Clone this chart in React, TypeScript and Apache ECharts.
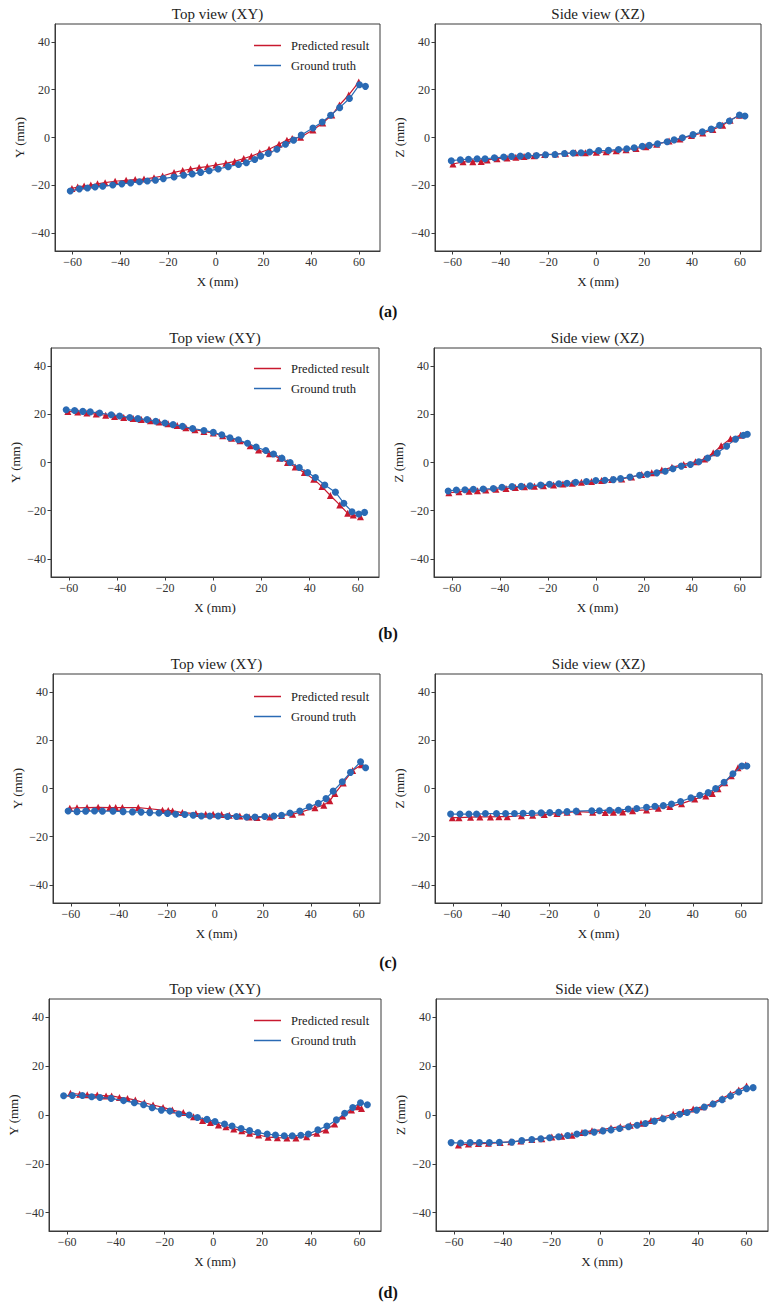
import React, { useEffect, useRef } from "react";
import * as echarts from "echarts";

// ---------- data ----------
const xTicks = [-60, -40, -20, 0, 20, 40, 60];
const yTicks = [-40, -20, 0, 20, 40];
const seriesNames = ["Predicted result", "Ground truth"];
const panelLabels = ["(a)", "(b)", "(c)", "(d)"];
const titles = ["Top view (XY)", "Side view (XZ)"];
const yNames = ["Y (mm)", "Z (mm)"];

// (a) top view XY
const aXYPred = [[-60.3,-21.3],[-57.9,-20.7],[-55.2,-20.3],[-52.4,-19.9],[-49.6,-19.4],[-46.4,-18.9],[-42.2,-18.3],[-37.6,-17.9],[-33.8,-17.6],[-30.1,-17.4],[-25.9,-16.8],[-22.3,-16.1],[-17.5,-14.6],[-13.9,-13.8],[-10.6,-13.2],[-7.0,-12.6],[-3.6,-12.2],[0,-11.5],[4.2,-10.8],[7.9,-10.0],[11.7,-8.8],[14.9,-7.8],[18.4,-6.4],[22.3,-4.9],[26.5,-2.8],[29.8,-1.1],[32.0,-0.4],[35.5,0.1],[40.7,3.1],[44.8,6.1],[48.6,9.4],[51.8,13.6],[55.7,17.8],[59.9,23.2]];
const aXYTrue = [[-61.0,-22.4],[-57.2,-21.5],[-53.8,-21.1],[-50.6,-20.7],[-47.4,-20.4],[-43.2,-19.9],[-39.4,-19.4],[-35.7,-19.0],[-32.0,-18.5],[-28.7,-18.2],[-25.3,-17.9],[-22.0,-17.2],[-17.5,-16.5],[-13.5,-15.8],[-9.9,-15.3],[-6.4,-14.6],[-2.8,-13.9],[1.0,-13.2],[5.2,-12.2],[9.5,-11.3],[12.8,-10.6],[16.3,-9.2],[18.8,-7.8],[22.0,-6.7],[25.6,-4.9],[29.2,-2.8],[32.6,-1.1],[35.8,1.0],[40.7,4.0],[44.6,6.5],[48.1,9.3],[51.9,12.5],[56.0,16.3],[60.2,22.1],[62.7,21.4]];
// (a) side view XZ
const aXZPred = [[-59.9,-11.1],[-55.7,-10.2],[-51.6,-10.1],[-48.1,-10.0],[-45.6,-9.4],[-41.5,-8.9],[-37.3,-8.6],[-33.6,-8.3],[-30.2,-8.0],[-26.0,-7.6],[-21.6,-7.1],[-17.0,-6.9],[-12.9,-6.6],[-8.7,-6.4],[-4.6,-6.4],[0,-6.2],[4.1,-6.0],[8.3,-5.5],[12.4,-5.1],[16.6,-4.6],[20.7,-3.9],[25.2,-2.8],[30.4,-1.5],[34.9,-0.6],[39.7,0.8],[44.5,1.9],[48.7,3.3],[52.8,5.1],[55.9,7.2],[59.8,9.3]];
const aXZTrue = [[-60.6,-9.7],[-56.8,-9.3],[-53.4,-9.1],[-49.8,-8.9],[-46.5,-8.9],[-42.6,-8.5],[-38.7,-8.2],[-35.4,-7.9],[-31.8,-7.8],[-28.5,-7.6],[-25.0,-7.5],[-21.2,-7.2],[-17.3,-7.1],[-13.3,-6.7],[-9.7,-6.5],[-6.4,-6.4],[-2.8,-6.1],[1.0,-5.5],[5.1,-5.4],[9.3,-5.0],[12.7,-4.7],[15.8,-4.3],[19.2,-3.7],[22.1,-3.3],[25.6,-2.6],[29.6,-1.8],[32.5,-1.0],[36.0,-0.1],[40.4,1.2],[44.3,2.4],[48.0,3.5],[51.5,5.1],[55.6,6.9],[59.8,9.4],[62.1,9.0]];

// (b) top view XY
const bXYPred = [[-60.4,21.2],[-56.3,20.9],[-52.5,20.5],[-48.6,20.1],[-44.7,19.6],[-41.0,19.1],[-37.2,18.7],[-33.3,18.3],[-29.9,17.8],[-26.1,17.3],[-22.5,16.8],[-18.8,16.1],[-15.0,15.3],[-11.4,14.4],[-7.6,13.6],[-3.9,12.9],[0,12.2],[3.9,11.1],[7.6,10.1],[11.1,9.0],[15.3,6.9],[18.8,5.2],[23.3,3.6],[27.5,1.8],[30.8,0],[34.0,-1.9],[37.8,-4.2],[41.7,-6.9],[45.1,-10.0],[48.6,-13.7],[52.5,-17.6],[55.8,-21.1],[58.1,-21.8],[61.1,-22.5]];
const bXYTrue = [[-61.1,21.9],[-57.6,21.6],[-54.2,21.2],[-51.1,21.0],[-47.2,20.5],[-42.4,19.8],[-38.9,19.3],[-34.7,18.7],[-31.3,18.2],[-27.5,17.8],[-23.9,17.1],[-20.1,16.4],[-16.7,15.7],[-12.8,15.0],[-8.6,14.1],[-3.9,13.3],[0,12.5],[3.5,11.5],[6.9,10.3],[10.4,9.4],[14.2,8.0],[17.8,6.4],[21.8,5.0],[25.0,3.5],[28.5,1.8],[31.9,0],[35.7,-2.1],[39.2,-4.2],[42.4,-6.2],[46.3,-9.3],[50.7,-12.3],[54.2,-16.9],[57.6,-20.4],[60.4,-21.4],[62.8,-20.7]];
// (b) side view XZ
const bXZPred = [[-61.2,-12.6],[-57.0,-12.1],[-52.8,-11.9],[-49.3,-11.7],[-45.8,-11.4],[-41.6,-11.1],[-37.4,-10.8],[-33.5,-10.4],[-29.7,-10.1],[-25.6,-9.9],[-21.8,-9.6],[-17.6,-9.3],[-13.7,-8.9],[-9.8,-8.6],[-6.0,-8.2],[-1.8,-7.9],[2.4,-7.5],[6.6,-7.1],[10.8,-6.8],[14.9,-6.0],[19.1,-5.0],[23.3,-4.3],[27.5,-3.1],[31.7,-2.0],[36.6,-0.8],[41.5,0.3],[45.3,1.5],[48.9,4.0],[52.2,6.9],[56.1,9.9],[60.3,11.3]];
const bXZTrue = [[-61.5,-11.8],[-58.1,-11.4],[-54.5,-11.3],[-51.0,-11.1],[-46.9,-11.0],[-42.7,-10.8],[-39.1,-10.3],[-34.9,-10.0],[-31.1,-9.9],[-27.4,-9.7],[-23.0,-9.3],[-19.3,-9.0],[-15.4,-8.8],[-12.0,-8.6],[-8.4,-8.2],[-3.9,-7.9],[0,-7.5],[3.8,-7.4],[7.3,-7.1],[10.3,-6.7],[14.2,-6.0],[18.2,-5.3],[21.5,-4.9],[25.4,-4.3],[28.9,-3.6],[32.1,-2.6],[35.6,-1.5],[39.4,-0.8],[42.9,0.3],[46.6,1.9],[50.6,3.9],[54.5,6.8],[58.2,9.7],[61.5,11.3],[63.1,11.7]];

// (c) top view XY
const cXYPred = [[-60.4,-8.2],[-57.4,-8.0],[-53.2,-7.9],[-48.6,-7.8],[-43.8,-7.9],[-41.3,-7.9],[-38.5,-7.9],[-31.9,-7.9],[-27.1,-8.4],[-21.8,-9.0],[-19.4,-9.1],[-17.6,-9.3],[-13.5,-10.0],[-7.9,-10.4],[-3.8,-10.7],[-0.7,-10.7],[2.8,-10.8],[6.0,-11.1],[10.4,-11.4],[14.3,-11.8],[17.6,-12.0],[22.9,-11.8],[27.8,-11.2],[32.4,-10.7],[36.1,-9.7],[41.7,-8.0],[45.4,-6.9],[47.9,-5.1],[50.0,-2.1],[53.5,2.3],[57.4,7.5],[61.1,9.9]];
const cXYTrue = [[-61.1,-9.3],[-57.4,-9.6],[-53.8,-9.4],[-50.1,-9.3],[-46.8,-9.4],[-42.4,-9.4],[-38.2,-9.6],[-34.3,-9.7],[-30.7,-9.8],[-27.1,-10.0],[-23.3,-10.2],[-19.7,-10.4],[-16.3,-10.7],[-12.5,-10.8],[-9.0,-11.1],[-5.6,-11.4],[-2.1,-11.4],[1.4,-11.4],[5.3,-11.6],[9.0,-11.6],[13.2,-11.8],[16.7,-11.8],[20.8,-11.6],[24.6,-11.4],[27.8,-11.1],[31.3,-10.2],[35.4,-9.3],[39.3,-7.6],[43.1,-6.1],[46.3,-4.2],[49.3,-1.1],[53.1,2.8],[56.5,6.7],[60.7,11.1],[62.8,8.6]];
// (c) side view XZ
const cXZPred = [[-60.2,-12.1],[-57.4,-12.1],[-52.6,-11.9],[-48.7,-11.8],[-44.3,-11.8],[-40.8,-11.7],[-37.3,-11.7],[-31.4,-11.3],[-26.7,-11.1],[-21.9,-10.8],[-16.6,-10.4],[-12.4,-9.9],[-7.6,-9.6],[-1.7,-9.9],[3.5,-10.0],[6.9,-9.9],[10.8,-9.7],[14.9,-9.2],[20.7,-8.9],[25.6,-8.2],[30.4,-7.5],[35.3,-6.3],[40.8,-4.4],[45.4,-3.1],[48.1,-2.1],[50.5,-0.1],[53.3,2.4],[56.0,5.3],[58.8,8.6],[62.0,9.7]];
const cXZTrue = [[-60.9,-10.6],[-57.0,-10.6],[-53.3,-10.6],[-50.1,-10.6],[-46.4,-10.4],[-41.8,-10.4],[-38.0,-10.4],[-34.3,-10.4],[-30.7,-10.3],[-27.0,-10.3],[-23.2,-10.1],[-19.6,-10.0],[-15.9,-9.9],[-12.4,-9.6],[-8.6,-9.4],[-2.1,-9.2],[1.1,-9.2],[5.3,-9.0],[9.0,-9.0],[13.1,-8.5],[16.6,-8.3],[20.7,-7.8],[24.2,-7.4],[27.7,-7.1],[31.1,-6.4],[34.9,-5.4],[39.2,-3.9],[42.9,-2.8],[46.4,-1.7],[49.5,0],[53.0,2.6],[56.7,6.1],[60.4,9.3],[62.5,9.3]];

// (d) top view XY
const dXYPred = [[-58.6,8.9],[-54.8,8.5],[-51.7,8.3],[-47.6,8.2],[-44.0,7.8],[-41.7,7.8],[-38.5,7.2],[-35.2,6.8],[-32.0,6.1],[-28.3,5.0],[-24.7,4.1],[-20.6,3.1],[-16.8,2.0],[-12.3,1.0],[-8.1,-0.7],[-4.4,-2.3],[-1.2,-3.1],[2.1,-4.1],[5.2,-4.8],[8.4,-5.7],[11.7,-6.4],[14.9,-7.5],[18.6,-8.2],[22.5,-9.1],[26.3,-9.3],[30.2,-9.4],[33.9,-9.4],[38.3,-8.9],[42.5,-7.5],[46.2,-6.1],[49.8,-3.7],[53.1,-0.4],[56.7,2.0],[59.4,3.4],[60.8,2.7]];
const dXYTrue = [[-61.4,7.9],[-57.8,8.0],[-53.7,8.0],[-49.9,7.5],[-46.5,7.2],[-41.9,6.8],[-36.8,5.9],[-32.4,5.0],[-28.6,4.2],[-25.1,3.0],[-21.3,2.0],[-17.8,1.6],[-14.1,0.4],[-9.9,0],[-6.5,-1.0],[-2.6,-1.8],[0.7,-2.7],[4.6,-3.7],[7.7,-4.5],[11.4,-5.5],[14.9,-6.4],[18.3,-7.2],[22.1,-7.8],[25.5,-8.2],[29.1,-8.5],[32.4,-8.5],[35.9,-8.3],[39.0,-7.8],[42.9,-6.1],[46.6,-4.5],[50.5,-2.0],[53.9,0.7],[57.2,3.1],[60.4,5.0],[63.2,4.2]];
// (d) side view XZ
const dXZPred = [[-58.2,-12.3],[-54.1,-11.9],[-50.0,-11.7],[-45.9,-11.6],[-41.1,-11.3],[-36.7,-11.0],[-32.6,-10.6],[-28.1,-10.0],[-24.0,-9.7],[-19.9,-9.0],[-15.8,-8.7],[-11.6,-8.3],[-7.5,-7.2],[-3.4,-6.4],[0.7,-6.1],[4.4,-5.3],[8.2,-4.8],[12.3,-4.2],[16.7,-3.4],[20.8,-2.3],[25.3,-1.0],[29.9,0.3],[34.0,1.4],[38.1,2.5],[42.2,3.4],[45.9,4.8],[50.0,6.8],[53.4,8.6],[56.8,10.2],[60.0,11.9]];
const dXZTrue = [[-61.2,-11.3],[-57.3,-11.5],[-53.4,-11.3],[-49.6,-11.3],[-45.5,-11.3],[-41.4,-11.2],[-36.3,-11.1],[-32.2,-10.5],[-28.1,-10.0],[-24.4,-9.7],[-20.8,-9.3],[-17.1,-8.9],[-13.4,-8.4],[-9.6,-7.8],[-6.2,-7.3],[-2.5,-7.0],[1.1,-6.5],[4.4,-6.1],[7.9,-5.5],[11.6,-4.8],[15.1,-4.2],[18.5,-3.5],[22.2,-2.5],[25.8,-1.5],[29.5,-0.7],[32.6,0.3],[35.6,1.0],[39.5,2.0],[42.7,3.3],[46.3,4.5],[50.0,6.3],[53.4,7.8],[56.8,9.4],[60.0,10.8],[62.7,11.2]];

const panelData = [
  [aXYPred, aXYTrue, aXZPred, aXZTrue],
  [bXYPred, bXYTrue, bXZPred, bXZTrue],
  [cXYPred, cXYTrue, cXZPred, cXZTrue],
  [dXYPred, dXYTrue, dXZPred, dXZTrue],
];

// ---------- layout ----------
const rows = [
  { top: 24, h: 227, lL: 55, wL: 325, lR: 435, wR: 326, lab: 311, legTop: 34 },
  { top: 348, h: 229, lL: 51, wL: 328, lR: 434, wR: 327, lab: 633, legTop: 357 },
  { top: 674, h: 229, lL: 53, wL: 327, lR: 435, wR: 327, lab: 962, legTop: 685 },
  { top: 999, h: 232, lL: 49, wL: 332, lR: 436, wR: 332, lab: 1292, legTop: 1009 },
];

const RED = "#c8192f";
const BLUE = "#2a6ab4";
const FONT = "'Liberation Serif', 'Times New Roman', serif";
const TXT = "#222";
const XMIN = -67.4;
const XMAX = 68.8;
const YMIN = -47.5;
const YMAX = 47.5;

const fmt = (v: number) => (v < 0 ? "\u2212" + Math.abs(v) : String(v));

export default function App() {
  const ref = useRef<HTMLDivElement>(null);
  useEffect(() => {
    if (!ref.current) return;
    const chart = echarts.init(ref.current, null, { renderer: "svg" });
    const grids: any[] = [];
    const xAxes: any[] = [];
    const yAxes: any[] = [];
    const series: any[] = [];
    const legends: any[] = [];
    const graphics: any[] = [];

    rows.forEach((r, ri) => {
      [0, 1].forEach((side) => {
        const gi = ri * 2 + side;
        const left = side === 0 ? r.lL : r.lR;
        const width = side === 0 ? r.wL : r.wR;
        grids.push({
          left, top: r.top, width, height: r.h,
          show: true, borderColor: "#3a3a3a", borderWidth: 1,
          backgroundColor: "transparent", containLabel: false,
        });
        xAxes.push({
          type: "value", gridIndex: gi, min: XMIN, max: XMAX,
          name: "X (mm)", nameLocation: "middle", nameGap: 24,
          nameTextStyle: { fontFamily: FONT, fontSize: 13, color: TXT },
          axisLine: { show: true, onZero: false, lineStyle: { color: "#3a3a3a", width: 1 } },
          axisTick: { show: true, inside: false, length: 3.5, customValues: xTicks, lineStyle: { color: "#3a3a3a" } },
          axisLabel: { customValues: xTicks, formatter: fmt, fontFamily: FONT, fontSize: 12, color: "#333", margin: 5 },
          splitLine: { show: false },
        });
        yAxes.push({
          type: "value", gridIndex: gi, min: YMIN, max: YMAX,
          name: yNames[side], nameLocation: "middle", nameGap: 29,
          nameTextStyle: { fontFamily: FONT, fontSize: 13, color: TXT },
          axisLine: { show: true, onZero: false, lineStyle: { color: "#3a3a3a", width: 1 } },
          axisTick: { show: true, inside: false, length: 3.5, customValues: yTicks, lineStyle: { color: "#3a3a3a" } },
          axisLabel: { customValues: yTicks, formatter: fmt, fontFamily: FONT, fontSize: 12, color: "#333", margin: 5 },
          splitLine: { show: false },
        });
        const pred = panelData[ri][side * 2];
        const truth = panelData[ri][side * 2 + 1];
        series.push({
          name: seriesNames[0], type: "line", xAxisIndex: gi, yAxisIndex: gi,
          data: pred, symbol: "triangle", symbolSize: 7, showSymbol: true,
          lineStyle: { color: RED, width: 1.2 }, itemStyle: { color: RED },
          z: 2,
        });
        series.push({
          name: seriesNames[1], type: "line", xAxisIndex: gi, yAxisIndex: gi,
          data: truth, symbol: "circle", symbolSize: 7, showSymbol: true,
          lineStyle: { color: BLUE, width: 1.2 }, itemStyle: { color: BLUE },
          z: 3,
        });
        graphics.push({
          type: "text", x: left + width / 2, y: r.top - 10,
          style: { text: titles[side], align: "center", verticalAlign: "middle", font: `15px ${FONT}`, fill: TXT },
        });
      });
      legends.push({
        data: seriesNames, orient: "vertical", left: 249, top: r.legTop,
        itemWidth: 27, itemHeight: 1.5, itemGap: 7, icon: "rect",
        selectedMode: false,
        textStyle: { fontFamily: FONT, fontSize: 12.5, color: TXT, padding: [0, 0, 0, 5] },
      });
      graphics.push({
        type: "text", x: 388, y: r.lab,
        style: { text: panelLabels[ri], align: "center", verticalAlign: "middle", font: `bold 16px ${FONT}`, fill: "#111" },
      });
    });

    chart.setOption({
      animation: false,
      backgroundColor: "#ffffff",
      grid: grids,
      xAxis: xAxes,
      yAxis: yAxes,
      series,
      legend: legends,
      graphic: graphics,
    });
    return () => chart.dispose();
  }, []);
  return (
    <div
      ref={ref}
      style={{ position: "absolute", left: 0, top: 0, width: 776, height: 1306 }}
    />
  );
}
